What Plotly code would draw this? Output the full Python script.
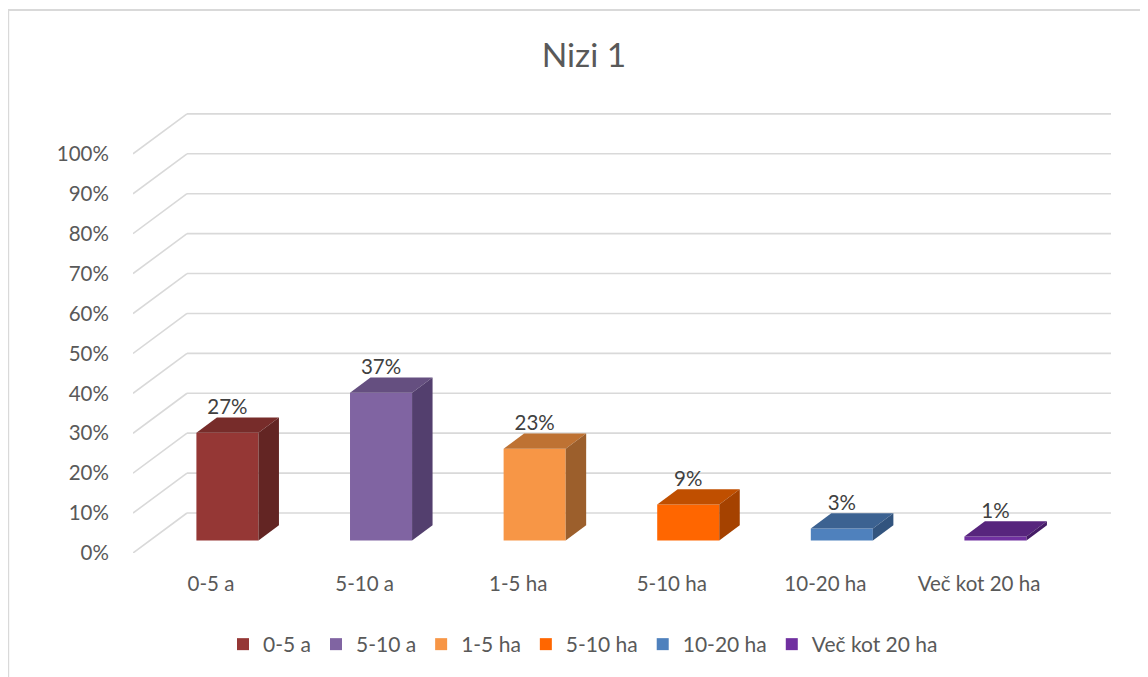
import plotly.graph_objects as go

categories = ["0-5 a", "5-10 a", "1-5 ha", "5-10 ha", "10-20 ha", "Več kot 20 ha"]
values = [27, 37, 23, 9, 3, 1]
y_ticks = [0, 10, 20, 30, 40, 50, 60, 70, 80, 90, 100]
y_tick_labels = ["0%", "10%", "20%", "30%", "40%", "50%", "60%", "70%", "80%", "90%", "100%"]
front_colors = ["#953735", "#8064A2", "#F79646", "#FF6600", "#4F81BD", "#7030A0"]
top_colors = ["#772C2A", "#654F80", "#BE7233", "#C04F00", "#3C6291", "#57257D"]
side_colors = ["#632523", "#533F6E", "#9C5F2C", "#A54200", "#32547E", "#451C66"]

# the page puts the figure at (8, 8); sizes below are in figure pixels
W, H = 1140, 669
L, R, T, B = 125, 1103, 86, 545
PX_X = 153.6
PX_Y = (B - T) / 115
x0 = (L - 203) / PX_X
x1 = (R - 203) / PX_X
FONT = "Lato"
TXT = "#595959"
GRID = "#D9D9D9"

bar_off = 0.107 - 0.202
bar_w = 0.404
floor = 12.5 / PX_Y
dx = 20.5 / PX_X
dy = 15.3 / PX_Y
wall_dx = 54 / PX_X
wall_dy = 40 / PX_Y

fig = go.Figure()

grid_shapes = []
for t in y_ticks:
    grid_shapes.append(dict(type="line", xref="x", yref="y", layer="below",
                            x0=x0, y0=t, x1=x0 + wall_dx, y1=t + wall_dy,
                            line=dict(color=GRID, width=1.6)))
    grid_shapes.append(dict(type="line", xref="x", yref="y", layer="below",
                            x0=x0 + wall_dx, y0=t + wall_dy, x1=x1, y1=t + wall_dy,
                            line=dict(color=GRID, width=1.6)))

for i, (c, v) in enumerate(zip(categories, values)):
    left = i + bar_off
    right = left + bar_w
    top = floor + v
    fig.add_trace(go.Bar(x=[left], y=[v], base=[floor], width=[bar_w], offset=0,
                         name=c, marker=dict(color=front_colors[i], line=dict(width=0))))
    fig.add_trace(go.Scatter(x=[left, right, right + dx, left + dx, left],
                             y=[top, top, top + dy, top + dy, top],
                             mode="lines", fill="toself", fillcolor=top_colors[i],
                             line=dict(width=0), showlegend=False, hoverinfo="skip"))
    fig.add_trace(go.Scatter(x=[right, right + dx, right + dx, right, right],
                             y=[floor, floor + dy, top + dy, top, floor],
                             mode="lines", fill="toself", fillcolor=side_colors[i],
                             line=dict(width=0), showlegend=False, hoverinfo="skip"))

fig.add_trace(go.Scatter(
    x=[i + bar_off + bar_w / 2 for i in range(len(values))],
    y=[floor + v + dy + 2.1 for v in values],
    text=[f"{v}%" for v in values], mode="text",
    textfont=dict(family=FONT, size=20.5, color="#404040"),
    showlegend=False, hoverinfo="skip"))

frame_left = (0 - L) / (R - L)
frame_right = (W - L) / (R - L)
frame_top = (B - 2) / (B - T)
frame_bottom = (B - H) / (B - T)

fig.update_layout(
    width=W, height=H, autosize=False,
    margin=dict(l=L, r=W - R, t=T, b=H - B),
    paper_bgcolor="white", plot_bgcolor="white",
    barmode="overlay",
    title=dict(text="Nizi 1", x=576 / W, xanchor="center", y=1 - 47 / H, yanchor="middle",
               font=dict(family=FONT, size=33.5, color=TXT)),
    xaxis=dict(range=[x0, x1], tickmode="array", tickvals=list(range(len(categories))),
               ticktext=categories, showgrid=False, zeroline=False, showline=False,
               ticks="outside", ticklen=12, tickcolor="rgba(0,0,0,0)",
               tickfont=dict(family=FONT, size=20.5, color=TXT)),
    yaxis=dict(range=[0, 115], tickmode="array", tickvals=y_ticks, ticktext=y_tick_labels,
               showgrid=False, zeroline=False, showline=False,
               ticks="outside", ticklen=19, tickcolor="rgba(0,0,0,0)",
               tickfont=dict(family=FONT, size=20.5, color=TXT)),
    legend=dict(orientation="h", xref="container", yref="container",
                x=215 / W, xanchor="left", y=1 - 616 / H, yanchor="top",
                traceorder="normal",
                font=dict(family=FONT, size=21, color=TXT), bgcolor="rgba(0,0,0,0)"),
    shapes=grid_shapes + [
        dict(type="line", xref="paper", yref="paper", x0=frame_left, x1=frame_left,
             y0=frame_bottom, y1=frame_top, line=dict(color=GRID, width=2.4)),
        dict(type="line", xref="paper", yref="paper", x0=frame_left, x1=frame_right,
             y0=frame_top, y1=frame_top, line=dict(color=GRID, width=2)),
    ],
)
fig.write_html("out.html")
